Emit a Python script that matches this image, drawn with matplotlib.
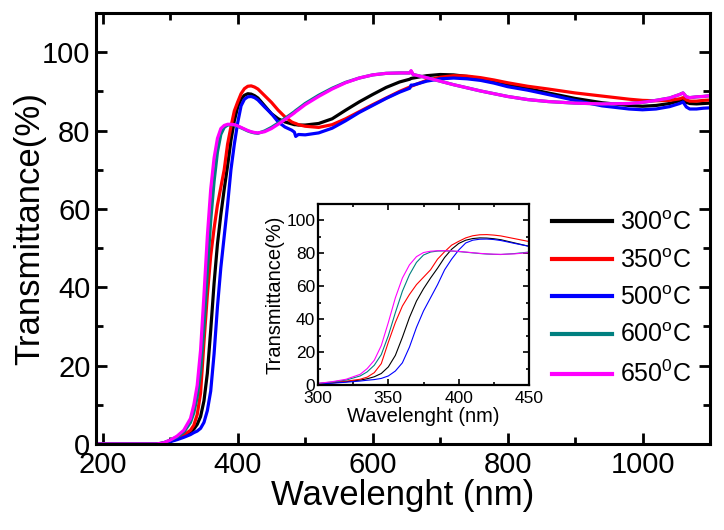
import numpy as np
import matplotlib
matplotlib.use("Agg")
import matplotlib.pyplot as plt

plt.rcParams['font.family'] = ['Liberation Sans', 'DejaVu Sans']
plt.rcParams['mathtext.fontset'] = 'custom'
plt.rcParams['mathtext.rm'] = 'Liberation Sans'
plt.rcParams['mathtext.it'] = 'Liberation Sans:italic'

# -------------------------------------------------
# DATA
# -------------------------------------------------
wavelength = [190, 280, 290, 300, 310, 320, 330, 335, 340, 345, 350, 355, 360, 365,
              370, 375, 380, 385, 390, 395, 400, 405, 410, 415, 420, 425, 430, 440,
              450, 460, 470, 480, 484, 486, 490, 500, 520, 540, 560, 580, 600, 620,
              640, 655, 657, 660, 680, 700, 720, 740, 760, 780, 800, 830, 860, 900,
              940, 980, 1000, 1020, 1040, 1055, 1060, 1065, 1070, 1080, 1090, 1100]

t_300 = [0, 0, 0.2, 0.7, 1.3, 2.0, 3.0, 3.8, 5.0, 7.0, 11, 18, 29, 41,
         51, 58.5, 65, 71, 77.5, 82.5, 86, 88, 89.0, 89.4, 89.3, 88.9, 88.3, 86.3,
         84.3, 83.0, 82.2, 81.7, 81.5, 81.5, 81.4, 81.4, 81.8, 83.0, 85.2, 87.3, 89.2, 91.0,
         92.4, 93.1, 93.3, 93.4, 94.0, 94.3, 94.2, 93.8, 93.2, 92.5, 91.7, 90.7, 89.6, 88.2,
         87.1, 86.4, 86.2, 86.4, 86.9, 87.6, 88.1, 87.2, 86.9, 86.8, 86.9, 87.0]

t_350 = [0, 0, 0.2, 0.8, 1.5, 2.3, 3.5, 4.8, 7.5, 13, 26, 38, 48, 55,
         61, 65.5, 70, 76.5, 81, 85, 87.3, 89.4, 90.7, 91.3, 91.4, 91.1, 90.6, 88.9,
         87.2, 85.2, 83.5, 82.2, 81.9, 81.8, 81.5, 81.1, 80.8, 81.5, 83.0, 84.8, 86.6, 88.3,
         90.0, 91.1, 91.3, 91.5, 92.8, 93.6, 94.0, 93.9, 93.5, 92.9, 92.2, 91.3, 90.6, 89.6,
         88.8, 88.0, 87.7, 87.6, 87.7, 88.1, 88.4, 87.8, 87.5, 87.5, 87.7, 87.8]

t_500 = [0, 0, 0.2, 0.6, 1.1, 1.7, 2.4, 2.9, 3.3, 4.0, 5.5, 8.5, 13.5, 23,
         35, 45, 53, 61, 70, 76.5, 82, 86.3, 88.0, 88.6, 88.7, 88.4, 87.8, 86.0,
         84.3, 82.2, 80.9, 80.1, 79.6, 78.5, 79.0, 78.9, 79.4, 80.6, 82.5, 84.6, 86.4, 88.2,
         89.8, 90.8, 91.6, 91.6, 92.6, 93.2, 93.4, 93.2, 92.8, 92.1, 91.2, 90.3, 89.2, 87.7,
         86.3, 85.5, 85.3, 85.5, 86.1, 86.9, 87.3, 86.0, 85.5, 85.5, 85.7, 85.8]

t_600 = [0, 0, 0.3, 1.0, 1.8, 3.0, 5.5, 8.0, 12, 18.5, 30, 44, 57, 67,
         74.5, 79, 80.8, 81.4, 81.5, 81.4, 81.1, 80.7, 80.3, 79.9, 79.6, 79.4, 79.3, 79.9,
         80.8, 81.9, 83.1, 84.3, 84.8, 85.1, 85.6, 86.9, 89.0, 90.8, 92.3, 93.4, 94.2, 94.6,
         94.7, 94.7, 95.1, 94.3, 93.5, 92.6, 91.7, 90.9, 90.1, 89.4, 88.7, 87.9, 87.4, 87.0,
         86.8, 86.9, 87.2, 87.7, 88.3, 89.2, 89.6, 88.6, 88.4, 88.6, 88.7, 88.9]

t_650 = [0, 0, 0.3, 1.0, 2.0, 3.5, 6.5, 10, 15, 24, 38, 53, 65, 73,
         78, 80.5, 81.3, 81.6, 81.6, 81.5, 81.2, 80.8, 80.4, 80.0, 79.7, 79.5, 79.4, 79.7,
         80.5, 81.6, 82.8, 84.0, 84.5, 84.8, 85.3, 86.6, 88.7, 90.6, 92.2, 93.4, 94.2, 94.6,
         94.7, 94.7, 95.3, 94.3, 93.5, 92.6, 91.7, 90.9, 90.1, 89.4, 88.7, 87.9, 87.4, 87.0,
         86.8, 86.9, 87.2, 87.7, 88.3, 89.2, 89.6, 88.6, 88.4, 88.6, 88.7, 88.9]

series = [t_300, t_350, t_500, t_600, t_650]
labels = ["300$^\\mathrm{o}$C", "350$^\\mathrm{o}$C", "500$^\\mathrm{o}$C",
          "600$^\\mathrm{o}$C", "650$^\\mathrm{0}$C"]
colors = ["#000000", "#ff0000", "#0000ff", "#008080", "#ff00ff"]

# -------------------------------------------------
# FIGURE
# -------------------------------------------------
fig = plt.figure(figsize=(7.24, 5.30), dpi=100)
ax = fig.add_axes([96/724, 1-444/530, (710-96)/724, (444-13)/530])

for vals, lab, c in zip(series, labels, colors):
    ax.plot(wavelength, vals, color=c, lw=2.3, label=lab)

ax.set_xlim(190, 1100)
ax.set_ylim(0, 110)
ax.set_xticks([200, 400, 600, 800, 1000])
ax.set_xticks([300, 500, 700, 900], minor=True)
ax.set_yticks([0, 20, 40, 60, 80, 100])
ax.set_yticks([10, 30, 50, 70, 90], minor=True)
ax.tick_params(which='both', direction='in', top=True, right=True, width=2, labelsize=21)
ax.tick_params(which='major', length=8)
ax.tick_params(which='minor', length=5)
ax.tick_params(axis='x', pad=5)
ax.tick_params(axis='y', pad=4)
for s in ax.spines.values():
    s.set_linewidth(2.2)
ax.set_xlabel("Wavelenght (nm)", fontsize=25, labelpad=0)
ax.set_ylabel("Transmittance(%)", fontsize=25, labelpad=-3)

leg = ax.legend(loc='upper left', bbox_to_anchor=(552/724, 1-211/530),
                bbox_transform=fig.transFigure, frameon=False, fontsize=18,
                handlelength=2.4, handletextpad=0.3, labelspacing=0.54,
                borderpad=0, borderaxespad=0)
for ln in leg.get_lines():
    ln.set_linewidth(3)

# -------------------------------------------------
# INSET
# -------------------------------------------------
axi = fig.add_axes([318/724, 1-385/530, (529-318)/724, (385-204)/530])
for vals, c in zip(series, colors):
    axi.plot(wavelength, vals, color=c, lw=0.8)
axi.set_xlim(300, 450)
axi.set_ylim(0, 110)
axi.set_xticks([300, 350, 400, 450])
axi.set_xticks([325, 375, 425], minor=True)
axi.set_yticks([0, 20, 40, 60, 80, 100])
axi.set_yticks([10, 30, 50, 70, 90], minor=True)
axi.tick_params(which='both', direction='in', top=True, right=True, width=1.2, labelsize=12.5)
axi.tick_params(axis='x', pad=4)
axi.tick_params(axis='y', pad=2)
axi.tick_params(which='major', length=4)
axi.tick_params(which='minor', length=2.5)
for s in axi.spines.values():
    s.set_linewidth(1.6)
axi.set_xlabel("Wavelenght (nm)", fontsize=14.5, labelpad=1)
axi.set_ylabel("Transmittance(%)", fontsize=14.5, labelpad=1)

plt.savefig("out.png", dpi=100)
plt.close()
